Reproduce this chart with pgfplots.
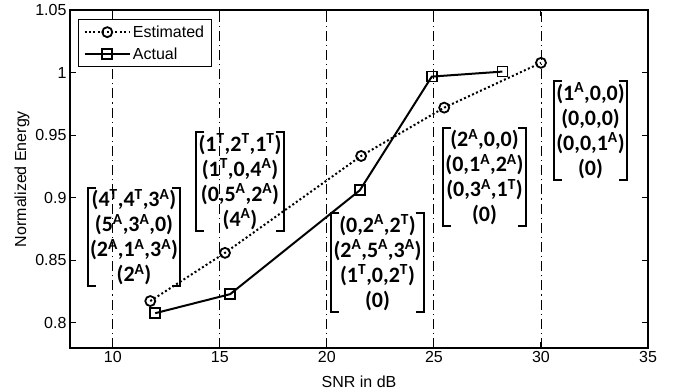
\documentclass[border=0pt]{standalone}
\usepackage{pgfplots}
\pgfplotsset{compat=1.18}
\usepackage{fontspec}
\setmainfont{Liberation Sans}
\newfontfamily\carlito{Carlito}
\newcommand\sA{\textsuperscript{A}}
\newcommand\sT{\textsuperscript{T}}
\newcommand\brk[1]{%
  \draw[line width=2.2bp] ([xshift=8bp]#1.north west) -- (#1.north west) -- (#1.south west) -- ([xshift=8bp]#1.south west);
  \draw[line width=2.2bp] ([xshift=-8bp]#1.north east) -- (#1.north east) -- (#1.south east) -- ([xshift=-8bp]#1.south east);}
\begin{document}
\begin{tikzpicture}
\path (0,0) rectangle (673bp,392bp);
\begin{axis}[
  at={(70bp,44bp)}, anchor=south west,
  scale only axis, width=578bp, height=338bp,
  xmin=8, xmax=35, ymin=0.78, ymax=1.05,
  xtick={10,15,20,25,30,35},
  ytick={0.8,0.85,0.9,0.95,1,1.05},
  yticklabels={0.8,0.85,0.9,0.95,1,1.05},
  tick align=inside,
  major tick length=6bp,
  tick style={black, line width=1bp},
  axis line style={line width=1.6bp},
  xmajorgrids,
  grid style={black, line width=0.9bp, dash pattern=on 10bp off 4bp on 1.2bp off 4bp},
  ticklabel style={font=\fontsize{16bp}{18bp}\selectfont},
  /pgf/number format/assume math mode=true,
  xlabel={SNR in dB}, ylabel={Normalized Energy},
  label style={font=\fontsize{16bp}{18bp}\selectfont},
  xlabel style={at={(axis description cs:0.5,-0.1)}, anchor=center},
  ylabel style={at={(axis description cs:-0.083,0.5)}, anchor=center},
  legend style={at={(0.014,0.973)}, anchor=north west, draw=black, line width=1bp,
    font=\fontsize{16bp}{18bp}\selectfont, inner xsep=5bp, inner ysep=4bp, row sep=5bp,
    cells={anchor=west}},
  legend image code/.code={\draw[mark repeat=2,mark phase=2] plot coordinates {(0cm,0cm)(0.8cm,0cm)(1.6cm,0cm)};},
  clip=false,
]
\addplot[black, line width=2bp, dash pattern=on 2bp off 2.4bp, mark=o, mark size=5bp,
  mark options={solid, line width=1.8bp}]
  coordinates {(11.75,0.8175) (15.24,0.856) (21.6,0.9334) (25.48,0.972) (30,1.0078)};
\addlegendentry{Estimated}
\addplot[black, line width=2bp, mark=square, mark size=5bp, mark options={solid, line width=1.8bp}]
  coordinates {(11.98,0.8078) (15.48,0.823) (21.54,0.906) (24.9,0.9968) (28.2,1.0008)};
\addlegendentry{Actual}
\end{axis}
\begin{scope}[every node/.style={font=\carlito\bfseries\fontsize{22bp}{25bp}\selectfont, align=center, inner xsep=2bp, inner ysep=1bp}]
\node (n1) at (134bp,155bp) {(4\sT,4\sT,3\sA)\\(5\sA,3\sA,0)\\(2\sA,1\sA,3\sA)\\(2\sA)};
\node (n2) at (240bp,210.5bp) {(1\sT,2\sT,1\sT)\\(1\sT,0,4\sA)\\(0,5\sA,2\sA)\\(4\sA)};
\node (n3) at (377.5bp,129.5bp) {(0,2\sA,2\sT)\\(2\sA,5\sA,3\sA)\\(1\sT,0,2\sT)\\(0)};
\node (n4) at (484.5bp,215bp) {(2\sA,0,0)\\(0,1\sA,2\sA)\\(0,3\sA,1\sT)\\(0)};
\node (n5) at (590.5bp,261.5bp) {(1\sA,0,0)\\(0,0,0)\\(0,0,1\sA)\\(0)};
\end{scope}
\brk{n1}\brk{n2}\brk{n3}\brk{n4}\brk{n5}
\end{tikzpicture}
\end{document}
